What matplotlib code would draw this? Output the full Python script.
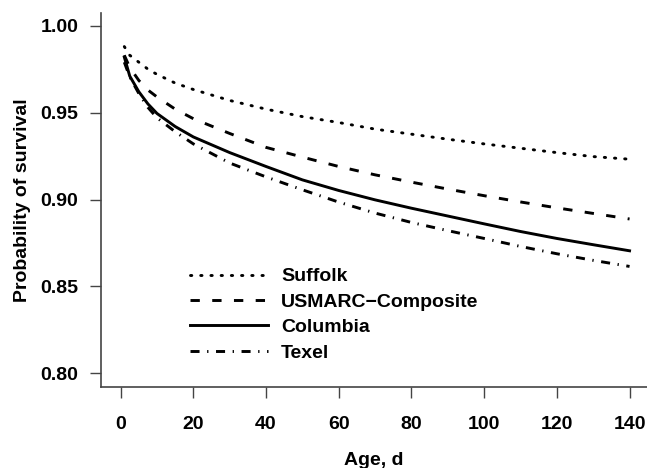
import matplotlib
matplotlib.use("Agg")
import matplotlib.pyplot as plt

plt.rcParams['font.family'] = ['Liberation Sans', 'DejaVu Sans']
plt.rcParams['font.weight'] = 'bold'

# survival curves
ages = [1, 2.5, 5, 7.5, 10, 15, 20, 30, 40, 50, 60, 70, 80, 90, 100, 110, 120, 130, 140]
suffolk = [0.988, 0.983, 0.979, 0.975, 0.972, 0.967, 0.9633, 0.957, 0.952, 0.9477, 0.9443,
           0.9405, 0.9376, 0.9347, 0.932, 0.9295, 0.927, 0.9247, 0.9232]
usmarc = [0.983, 0.976, 0.9685, 0.963, 0.959, 0.952, 0.9465, 0.938, 0.930, 0.9244, 0.919,
          0.9142, 0.910, 0.906, 0.9022, 0.8986, 0.8952, 0.892, 0.8888]
columbia = [0.982, 0.971, 0.962, 0.955, 0.9495, 0.942, 0.936, 0.927, 0.919, 0.9113, 0.9052,
            0.8998, 0.895, 0.8905, 0.886, 0.8816, 0.8776, 0.874, 0.8705]
texel = [0.979, 0.9705, 0.961, 0.953, 0.947, 0.939, 0.932, 0.921, 0.913, 0.9056, 0.8985,
         0.8922, 0.8868, 0.8821, 0.8776, 0.873, 0.8688, 0.865, 0.8615]

labels = ['Suffolk', 'USMARC\u2212Composite', 'Columbia', 'Texel']
xticks = [0, 20, 40, 60, 80, 100, 120, 140]
yticks = [0.80, 0.85, 0.90, 0.95, 1.00]

fig = plt.figure(figsize=(6.47, 4.68), dpi=100)
ax = fig.add_axes([0.1556, 0.1737, 0.8444, 0.7992])

lw = 2.1
ax.plot(ages, suffolk, color='black', lw=lw, linestyle=(0, (0.45, 3.05)),
        dash_capstyle='round', label=labels[0])
ax.plot(ages, usmarc, color='black', lw=lw, linestyle=(0, (3.2, 4.25)),
        label=labels[1])
ax.plot(ages, columbia, color='black', lw=lw, linestyle='-', label=labels[2])
ax.plot(ages, texel, color='black', lw=lw, linestyle=(0, (3.1, 2.6, 0.45, 2.6)),
        label=labels[3])

ax.set_xlim(-5.5, 144.8)
ax.set_ylim(0.7923, 1.0075)
ax.set_xticks(xticks)
ax.set_yticks(yticks)
ax.set_yticklabels([f'{v:.2f}' for v in yticks])

for side in ['top', 'right']:
    ax.spines[side].set_visible(False)
for side in ['left', 'bottom']:
    ax.spines[side].set_color('#444444')
    ax.spines[side].set_linewidth(1.2)

ax.tick_params(axis='x', length=8, width=1.0, color='#444444', pad=13, labelsize=14)
ax.tick_params(axis='y', length=8, width=1.0, color='#444444', pad=8, labelsize=14)

ax.set_xlabel('Age, d', fontsize=14, fontweight='bold', labelpad=14)
ax.set_ylabel('Probability of survival', fontsize=14, fontweight='bold', labelpad=7)

ax.legend(loc='upper left', bbox_to_anchor=(0.163, 0.318), frameon=False,
          fontsize=14, handlelength=4.0, handletextpad=0.7, labelspacing=0.4,
          borderpad=0, borderaxespad=0)

fig.savefig('out.png', dpi=100)
